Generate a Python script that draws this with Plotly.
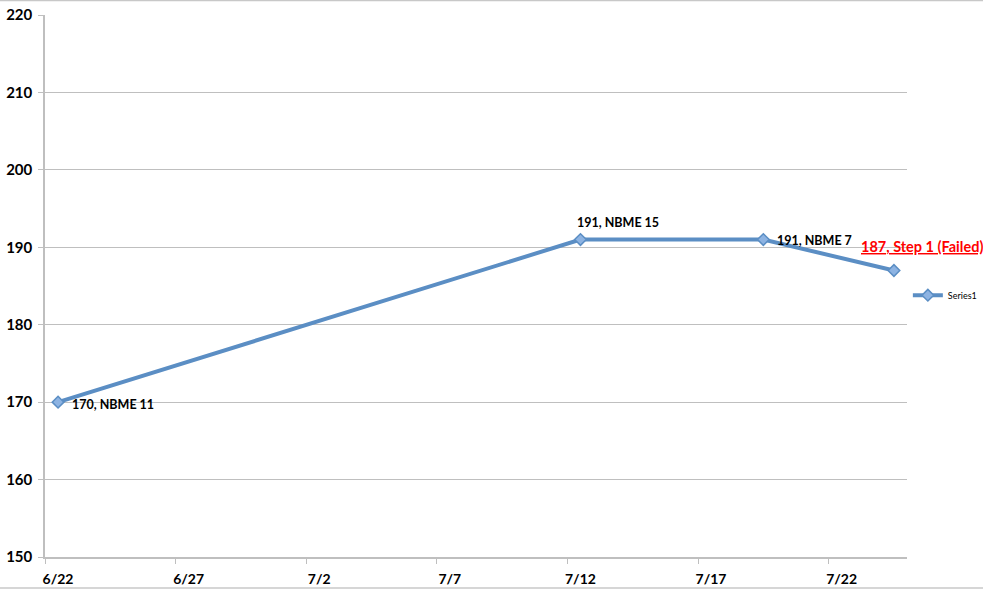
import plotly.graph_objects as go
import pandas as pd

dates = ["2013-06-22", "2013-07-12", "2013-07-19", "2013-07-24"]
scores = [170, 191, 191, 187]
labels = ["170, NBME 11", "191, NBME 15", "191, NBME 7", "187, Step 1 (Failed)"]
tick_dates = ["2013-06-22", "2013-06-27", "2013-07-02", "2013-07-07", "2013-07-12", "2013-07-17", "2013-07-22"]
tick_text = ["6/22", "6/27", "7/2", "7/7", "7/12", "7/17", "7/22"]
series_name = "Series1"

# Excel date axis plots each day in the middle of its slot
x = pd.to_datetime(dates) + pd.Timedelta(hours=12)

FONT = "Lato"
fig = go.Figure()
fig.add_trace(go.Scatter(
    x=x, y=scores, mode="lines+markers", name=series_name,
    line=dict(color="#5B8EC4", width=4),
    marker=dict(symbol="diamond", size=9, color="#8DB3E2",
                line=dict(color="#5B8EC4", width=1.5)),
))

ann_style = [
    dict(xshift=12, yshift=-2, color="#000000"),
    dict(xshift=-5, yshift=17, color="#000000"),
    dict(xshift=12, yshift=-1, color="#000000"),
    dict(xshift=-35, yshift=24, color="#FF0000"),
]
for xi, yi, lab, st in zip(x, scores, labels, ann_style):
    txt = f"<b>{lab}</b>"
    size = 12.5
    if st["color"] == "#FF0000":
        txt = f"<u><b>{lab}</b></u>"
        size = 14.5
    fig.add_annotation(x=xi, y=yi, text=txt, showarrow=False, xanchor="left",
                       yanchor="middle", xshift=st["xshift"], yshift=st["yshift"],
                       font=dict(family=FONT, size=size, color=st["color"]))

# thin grey frame lines at the top and bottom of the picture
for yy in (1 + 14.5 / 542, -31 / 542):
    fig.add_shape(type="line", xref="paper", yref="paper",
                  x0=-45 / 862, x1=1 + 76 / 862, y0=yy, y1=yy,
                  line=dict(color="#C8C8C8", width=1.5))

fig.update_layout(
    width=983, height=590,
    margin=dict(l=45, r=76, t=15, b=33, autoexpand=False),
    paper_bgcolor="white", plot_bgcolor="white",
    showlegend=True,
    legend=dict(x=1.001, y=0.483, xanchor="left", yanchor="middle",
                font=dict(family=FONT, size=9, color="#000000"),
                bgcolor="rgba(0,0,0,0)", itemwidth=30),
    font=dict(family=FONT),
)
fig.update_xaxes(
    type="date", range=["2013-06-22", "2013-07-25"], automargin=False,
    tickmode="array", tickvals=pd.to_datetime(tick_dates), ticktext=tick_text,
    ticks="outside", ticklen=5, tickcolor="#BFBFBF",
    showline=True, linecolor="#BFBFBF", linewidth=1.5, showgrid=False,
    tickfont=dict(family=FONT, size=14, color="#000000", weight="bold"),
    ticklabelshift=13, ticklabelstandoff=3, ticklabeloverflow="allow",
)
fig.update_yaxes(
    range=[150, 220], dtick=10, tick0=150, automargin=False,
    ticks="outside", ticklen=5, tickcolor="#BFBFBF",
    showline=True, linecolor="#BFBFBF", linewidth=1.5,
    showgrid=True, gridcolor="#BFBFBF", gridwidth=1,
    tickfont=dict(family=FONT, size=15, color="#000000", weight="bold"),
    zeroline=False, ticklabelstandoff=3, ticklabeloverflow="allow",
)
fig.write_html("out.html", config={"displayModeBar": False},
               post_script="document.body.style.margin='0';document.body.style.padding='0';")
